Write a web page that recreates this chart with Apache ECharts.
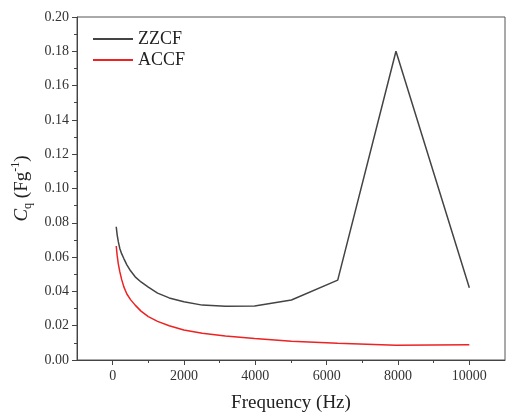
<!DOCTYPE html>
<html>
<head>
<meta charset="utf-8">
<script src="https://cdn.jsdelivr.net/npm/echarts@6/dist/echarts.min.js"></script>
<style>html,body{margin:0;padding:0;background:#fff}#c{width:506px;height:418px}</style>
</head>
<body>
<div id="c"></div>
<script>
const freq = [100,126,158,200,251,316,398,501,631,794,1000,1259,1585,1995,2512,3162,3981,5012,6310,7943,10000];
const zzcf = [0.0777,0.0730,0.0690,0.0650,0.0620,0.0590,0.0555,0.0520,0.0485,0.0455,0.0425,0.0390,0.0362,0.0340,0.0320,0.0314,0.0315,0.0350,0.0466,0.1800,0.0421];
const accf = [0.0665,0.0610,0.0560,0.0515,0.0470,0.0425,0.0385,0.0352,0.0320,0.0285,0.0253,0.0225,0.0200,0.0175,0.0156,0.0140,0.0126,0.0110,0.0097,0.0086,0.0089];
const xTicks = [0,2000,4000,6000,8000,10000];
const xMinor = [1000,3000,5000,7000,9000];
const seriesNames = ['ZZCF','ACCF'];

const font = 'Liberation Serif';
const chart = echarts.init(document.getElementById('c'));
chart.setOption({
  animation:false,
  grid:{left:77,top:17,right:1,bottom:56,show:true,borderColor:'#555',borderWidth:1},
  legend:{
    orient:'vertical',left:88,top:25,itemWidth:40,itemHeight:2,itemGap:3,icon:'rect',
    textStyle:{fontFamily:font,fontSize:18,color:'#222'},
    data:seriesNames
  },
  xAxis:[{
    type:'value',min:-1000,max:11000,
    name:'Frequency (Hz)',nameLocation:'middle',nameGap:34,
    nameTextStyle:{fontFamily:font,fontSize:19,color:'#222'},
    axisLine:{onZero:false,lineStyle:{color:'#444',width:1}},
    axisTick:{show:true,length:5,customValues:xTicks,lineStyle:{color:'#444'}},
    axisLabel:{customValues:xTicks,fontFamily:font,fontSize:14,color:'#333',margin:9,formatter:v=>String(v)},
    splitLine:{show:false}
  },{
    type:'value',min:-1000,max:11000,position:'bottom',
    axisLine:{show:false,onZero:false},
    axisTick:{show:true,length:3,customValues:xMinor,lineStyle:{color:'#444'}},
    axisLabel:{show:false},splitLine:{show:false}
  }],
  yAxis:{
    type:'value',min:0,max:0.2,interval:0.02,
    name:'{i|C}{sub|q}{n| (Fg}{sup|-1}{n|)}',nameLocation:'middle',nameGap:43,nameRotate:90,
    nameTextStyle:{fontFamily:font,fontSize:19,color:'#222',
      rich:{
        i:{fontFamily:font,fontSize:19,fontStyle:'italic',color:'#222',lineHeight:24},
        n:{fontFamily:font,fontSize:19,color:'#222',lineHeight:24},
        sub:{fontFamily:font,fontSize:12,color:'#222',verticalAlign:'bottom',lineHeight:24},
        sup:{fontFamily:font,fontSize:12,color:'#222',verticalAlign:'top',lineHeight:24}
      }},
    axisLine:{show:true,onZero:false,lineStyle:{color:'#444',width:1}},
    axisTick:{show:true,length:5,lineStyle:{color:'#444'}},
    minorTick:{show:true,splitNumber:2,length:3,lineStyle:{color:'#444'}},
    axisLabel:{fontFamily:font,fontSize:14,color:'#333',margin:8,formatter:v=>v.toFixed(2)},
    splitLine:{show:false}
  },
  series:[
    {name:seriesNames[0],type:'line',showSymbol:false,data:freq.map((f,i)=>[f,zzcf[i]]),lineStyle:{color:'#444',width:1.5},itemStyle:{color:'#444'}},
    {name:seriesNames[1],type:'line',showSymbol:false,data:freq.map((f,i)=>[f,accf[i]]),lineStyle:{color:'#ee2222',width:1.5},itemStyle:{color:'#ee2222'}}
  ]
});
</script>
</body>
</html>
